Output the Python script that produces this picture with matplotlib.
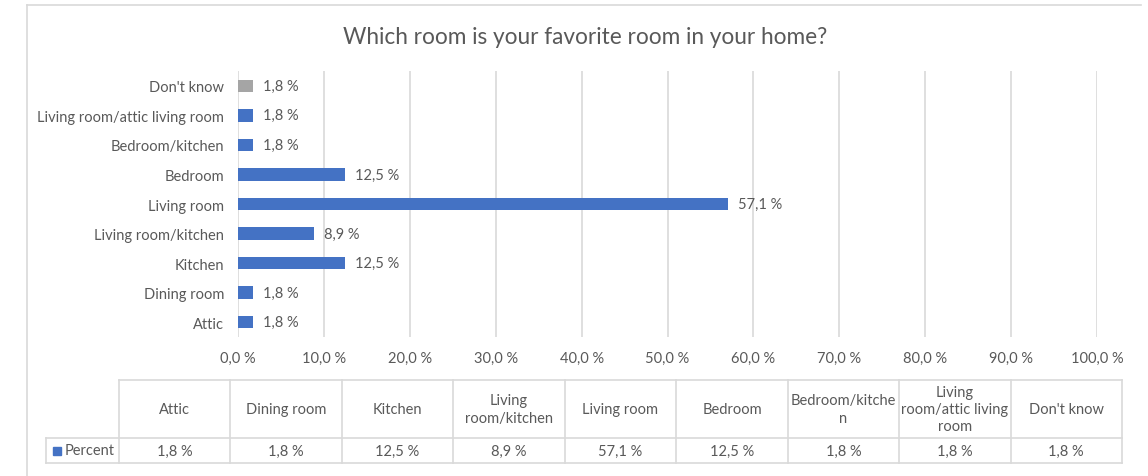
import matplotlib.pyplot as plt
from matplotlib.lines import Line2D
from matplotlib.patches import Rectangle

# Svar på spørsmålet, fra nederst til øverst i diagrammet
rom = ["Attic", "Dining room", "Kitchen", "Living room/kitchen", "Living room",
       "Bedroom", "Bedroom/kitchen", "Living room/attic living room", "Don't know"]
prosent = [1.8, 1.8, 12.5, 8.9, 57.1, 12.5, 1.8, 1.8, 1.8]
# Overskrifter i tabellen under diagrammet
tabell_overskrift = ["Attic", "Dining room", "Kitchen", "Living\nroom/kitchen", "Living room",
                     "Bedroom", "Bedroom/kitche\nn", "Living\nroom/attic living\nroom", "Don't know"]
x_ticks = [0, 10, 20, 30, 40, 50, 60, 70, 80, 90, 100]

BLA = "#4472C4"
GRA = "#A5A5A5"
TEKST = "#595959"
LINJE = "#D9D9D9"
FS = 10.5

plt.rcParams['font.family'] = ['Lato', 'DejaVu Sans']


def fmt(v):
    return f"{v:.1f} %".replace(".", ",")


W, H = 1148, 477
fig = plt.figure(figsize=(W / 100, H / 100), dpi=100)

# Ramme rundt diagramområdet (topp og venstre side)
fig.add_artist(Line2D([27 / W, 1141 / W], [1 - 6 / H, 1 - 6 / H], color=LINJE, lw=1.2))
fig.add_artist(Line2D([27 / W, 27 / W], [1 - 6 / H, 0], color=LINJE, lw=1.2))

fig.text(585 / W, 1 - 37 / H, "Which room is your favorite room in your home?",
         ha="center", va="center", fontsize=16.3, color=TEKST)

ax = fig.add_axes([238 / W, 1 - 338 / H, (1097 - 238) / W, (338 - 72) / H])
farger = [BLA] * (len(rom) - 1) + [GRA]
y = range(len(rom))
ax.barh(y, prosent, height=0.42, color=farger, zorder=3)
for yi, v in zip(y, prosent):
    ax.annotate(fmt(v), (v, yi), xytext=(7, 0), textcoords="offset points",
                va="center", ha="left", fontsize=FS, color=TEKST)

ax.set_xlim(0, 100)
ax.set_ylim(-0.5, len(rom) - 0.5)
ax.set_xticks(x_ticks)
ax.set_xticklabels([fmt(t) for t in x_ticks])
ax.set_yticks(list(y))
ax.set_yticklabels(rom)
ax.tick_params(axis="both", length=0, labelsize=FS, labelcolor=TEKST)
ax.tick_params(axis="y", pad=10)
ax.tick_params(axis="x", pad=10)
ax.grid(axis="x", color=LINJE, lw=1.2, zorder=0)
for s in ax.spines.values():
    s.set_visible(False)

# Datatabell under diagrammet
tab = fig.add_axes([119 / W, 1 - 464 / H, (1122 - 119) / W, (464 - 381) / H])
tab.set_xlim(0, len(rom))
tab.set_ylim(83, 0)
tab.axis("off")
n = len(rom)
lab_w = 73 / 111.4
tab.plot([0, n], [0, 0], color=LINJE, lw=1.2, clip_on=False)
tab.plot([-lab_w, n], [58, 58], color=LINJE, lw=1.2, clip_on=False)
tab.plot([-lab_w, n], [83, 83], color=LINJE, lw=1.2, clip_on=False)
tab.plot([-lab_w, -lab_w], [58, 83], color=LINJE, lw=1.2, clip_on=False)
for i in range(n + 1):
    tab.plot([i, i], [0, 83], color=LINJE, lw=1.2, clip_on=False)
for i, (navn, v) in enumerate(zip(tabell_overskrift, prosent)):
    tab.text(i + 0.5, 29, navn, ha="center", va="center", fontsize=FS,
             color=TEKST, linespacing=1.3)
    tab.text(i + 0.5, 70.5, fmt(v), ha="center", va="center", fontsize=FS, color=TEKST)
tab.add_patch(Rectangle((-lab_w + 0.06, 66.5), 0.075, 8, color=BLA, clip_on=False))
tab.text(-lab_w + 0.165, 70.5, "Percent", ha="left", va="center", fontsize=FS, color=TEKST)

fig.savefig("out.png", dpi=100)
